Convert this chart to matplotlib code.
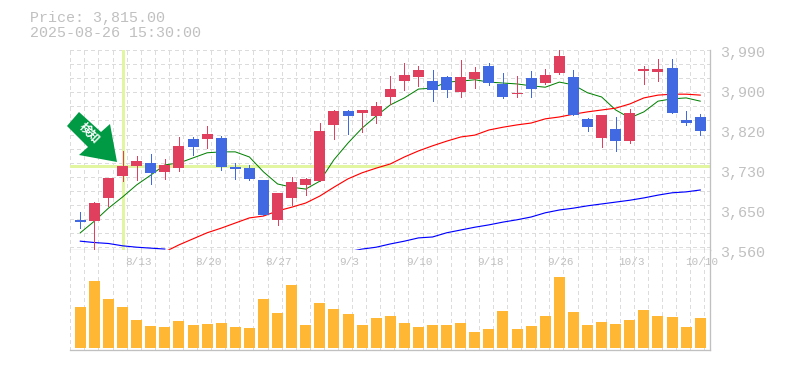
import numpy as np
import matplotlib
matplotlib.use('Agg')
import matplotlib.pyplot as plt
from matplotlib.patches import Polygon

# daily candles
dates = ['8/13', '8/20', '8/27', '9/3', '9/10', '9/18', '9/26', '10/3', '10/10']
date_pos = [4, 9, 14, 19, 24, 29, 34, 39, 44]

opens = [3625, 3622, 3672, 3719, 3741, 3747, 3728, 3736, 3799, 3799, 3801, 3738, 3736, 3710, 3625,
         3672, 3700, 3708, 3829, 3859, 3855, 3848, 3889, 3923, 3932, 3923, 3932, 3900, 3928, 3956,
         3917, 3895, 3930, 3919, 3941, 3932, 3842, 3801, 3820, 3794, 3945, 3943, 3951, 3840, 3846]
closes = [3621, 3661, 3715, 3741, 3751, 3726, 3743, 3784, 3781, 3809, 3738, 3734, 3713, 3635, 3683,
          3706, 3713, 3816, 3859, 3848, 3861, 3870, 3906, 3936, 3947, 3904, 3904, 3932, 3943, 3919,
          3889, 3898, 3906, 3936, 3977, 3850, 3824, 3850, 3794, 3855, 3949, 3949, 3855, 3833, 3815]
highs = [3642, 3663, 3715, 3773, 3762, 3766, 3756, 3803, 3803, 3827, 3805, 3747, 3743, 3710, 3683,
         3717, 3715, 3833, 3861, 3861, 3861, 3878, 3934, 3962, 3956, 3947, 3934, 3968, 3953, 3962,
         3941, 3934, 3945, 3949, 3990, 3947, 3844, 3850, 3846, 3863, 3956, 3971, 3971, 3859, 3852]
lows = [3607, 3560, 3655, 3708, 3710, 3702, 3713, 3730, 3764, 3779, 3732, 3713, 3710, 3635, 3614,
        3657, 3678, 3708, 3799, 3809, 3814, 3833, 3874, 3904, 3913, 3880, 3889, 3889, 3908, 3915,
        3887, 3889, 3889, 3917, 3938, 3850, 3816, 3781, 3773, 3790, 3917, 3923, 3855, 3829, 3807]

ma_short = [3597, 3622, 3650, 3674, 3700, 3721, 3743, 3747, 3758, 3769, 3771, 3771, 3760, 3728, 3702,
            3695, 3691, 3708, 3754, 3790, 3822, 3848, 3872, 3887, 3906, 3908, 3921, 3923, 3926, 3921,
            3919, 3917, 3913, 3910, 3921, 3915, 3898, 3889, 3861, 3844, 3857, 3880, 3885, 3887, 3880]
ma_mid = [np.nan] * 6 + [3556, 3571, 3584, 3597, 3607, 3618, 3629, 3633, 3644, 3652, 3661, 3676, 3695, 3713,
                         3726, 3736, 3745, 3760, 3773, 3784, 3794, 3803, 3807, 3818, 3824, 3829, 3833,
                         3842, 3846, 3852, 3857, 3861, 3865, 3874, 3887, 3893, 3895, 3895, 3893]
ma_long = [3579, 3576, 3574, 3569, 3566, 3564, 3562] + [np.nan] * 12 + [3556, 3562, 3566, 3573, 3579, 3586,
           3588, 3597, 3603, 3609, 3614, 3620, 3625, 3631, 3640, 3646, 3650, 3655, 3659, 3663, 3667, 3672,
           3678, 3683, 3685, 3689]

volumes = [407, 667, 487, 407, 277, 217, 207, 267, 227, 237, 247, 207, 197, 487, 347, 627, 227, 447, 387, 337,
           227, 297, 317, 247, 207, 227, 227, 247, 157, 187, 367, 187, 217, 317, 707, 357, 227, 257, 237, 277,
           377, 317, 307, 207, 297]

signal_idx = 3
signal_price = 3741

RED = '#e0405e'
BLUE = '#4169e1'
GRID = '#dcdcdc'
FRAME = '#c0c0c0'
TEXT = '#c0c0c0'
LIME = '#e2f5a0'
W, H = 785, 370
px = 0.72  # one pixel in points at dpi 100

fig = plt.figure(figsize=(W / 100, H / 100), dpi=100)
ax = fig.add_axes([70 / W, 1 - 250 / H, 640 / W, 200 / H])
axv = fig.add_axes([70 / W, 1 - 350 / H, 640 / W, 100 / H])

# index 0 sits at x=80.3px, 14.09px per candle
xlim = ((70 - 80.3) / 14.09, (710 - 80.3) / 14.09)
ax.set_xlim(xlim)
axv.set_xlim(xlim)
ax.set_ylim(3560, 3990)
axv.set_ylim(-20, 980)

for a in (ax, axv):
    a.set_xticks([])
    a.set_yticks([])
    for s in ('top', 'left'):
        a.spines[s].set_visible(False)
    for s in ('bottom', 'right'):
        a.spines[s].set_color(FRAME)
        a.spines[s].set_linewidth(px * 1.3)
    for i in range(-1, 45):
        a.axvline(i + 0.29, color=GRID, lw=px, dashes=(3, 3), zorder=0, antialiased=False)

for y in np.linspace(3990, 3566, 15):
    ax.axhline(y, color=GRID, lw=px, dashes=(3, 3), zorder=0, antialiased=False)

ax.axvline(signal_idx + 0.03, color=LIME, lw=px * 3, ymin=0.01, zorder=1)
ax.axhline(signal_price, color=LIME, lw=px * 3, zorder=1)

x = np.arange(len(opens))
ax.plot(x, ma_short, color='#008000', lw=px, zorder=2)
ax.plot(x, ma_mid, color='#ff0000', lw=px * 1.15, zorder=2, clip_on=False)
ax.plot(x, ma_long, color='#0000ff', lw=px * 1.15, zorder=2, clip_on=False)

body_w = 11 / 14.09
for i in x:
    c = RED if closes[i] >= opens[i] else BLUE
    ax.vlines(i, lows[i], highs[i], color=c, lw=px, zorder=3, antialiased=False)
    lo, hi = sorted((opens[i], closes[i]))
    ax.bar(i, hi - lo, bottom=lo, width=body_w, color=c, zorder=4)

axv.bar(x, volumes, width=body_w, color='#ffb734', zorder=3)

# entry arrow, in pixel coordinates of the figure
arrow_px = [(67, 126), (79, 112), (101, 132), (110, 124), (117, 162), (79, 155), (88, 147)]
arrow = Polygon([(p / W, 1 - q / H) for p, q in arrow_px], closed=True, transform=fig.transFigure,
                facecolor='#009a44', edgecolor='none', zorder=6)
fig.add_artist(arrow)
fig.text(89 / W, 1 - 133 / H, '検知', color='white', fontsize=8.5, fontweight='bold', rotation=-45,
         family=['Noto Sans CJK JP', 'DejaVu Sans'], ha='center', va='center', zorder=7)

mono = 'Liberation Mono'
fig.text(30 / W, 1 - 18 / H, 'Price: 3,815.00', color=TEXT, family=mono, fontsize=10.8, va='center')
fig.text(30 / W, 1 - 33 / H, '2025-08-26 15:30:00', color=TEXT, family=mono, fontsize=10.8, va='center')

price_labels = ['3,990', '3,900', '3,820', '3,730', '3,650', '3,560']
for k, lab in enumerate(price_labels):
    fig.text(720 / W, 1 - (53 + 40 * k) / H, lab, color=TEXT, family=mono, fontsize=10.8, va='center')

for d, i in zip(dates, date_pos):
    axv.text(i + 0.1, 1 - 12 / 100, d, transform=axv.get_xaxis_transform(), color=TEXT, family=mono,
             fontsize=7.9, ha='center', va='center', zorder=5, clip_on=False)

fig.savefig('out.png', dpi=100)
